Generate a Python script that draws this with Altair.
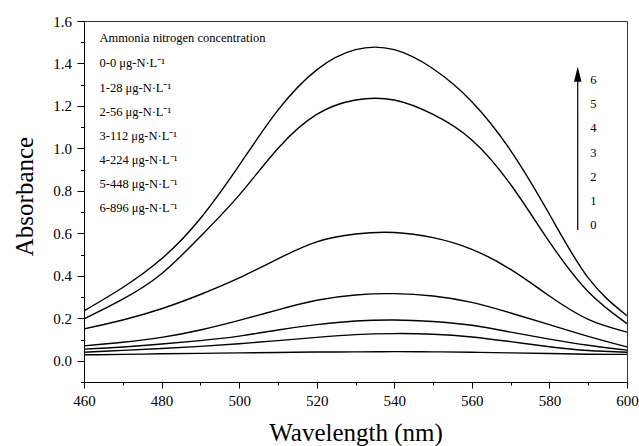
import altair as alt
import pandas as pd

# Absorption spectra (460-600 nm) for seven ammonia nitrogen standards
wavelength = [460, 470, 480, 490, 500, 510, 520, 530, 540, 550, 560, 570, 580, 590, 600]
abs_0 = [0.028, 0.030, 0.033, 0.035, 0.037, 0.039, 0.041, 0.042, 0.043, 0.042, 0.040, 0.037, 0.034, 0.031, 0.030]
abs_1 = [0.040, 0.049, 0.058, 0.068, 0.080, 0.095, 0.110, 0.123, 0.128, 0.125, 0.112, 0.090, 0.066, 0.048, 0.040]
abs_2 = [0.055, 0.065, 0.079, 0.095, 0.116, 0.145, 0.170, 0.187, 0.192, 0.185, 0.167, 0.135, 0.102, 0.073, 0.050]
abs_3 = [0.070, 0.087, 0.110, 0.145, 0.190, 0.240, 0.285, 0.310, 0.316, 0.305, 0.275, 0.225, 0.170, 0.115, 0.065]
abs_4 = [0.150, 0.192, 0.245, 0.312, 0.390, 0.480, 0.560, 0.597, 0.604, 0.580, 0.525, 0.430, 0.305, 0.195, 0.135]
abs_5 = [0.197, 0.290, 0.410, 0.585, 0.780, 1.000, 1.160, 1.228, 1.228, 1.160, 1.040, 0.830, 0.560, 0.325, 0.175]
abs_6 = [0.235, 0.345, 0.480, 0.670, 0.920, 1.180, 1.370, 1.465, 1.465, 1.375, 1.220, 0.990, 0.690, 0.390, 0.212]

series_ids = ["0", "1", "2", "3", "4", "5", "6"]
concentrations = ["0", "28", "56", "112", "224", "448", "896"]
legend_title = "Ammonia nitrogen concentration"

all_series = [abs_0, abs_1, abs_2, abs_3, abs_4, abs_5, abs_6]
rows = []
for sid, values in zip(series_ids, all_series):
    for w, a in zip(wavelength, values):
        rows.append({"wavelength": w, "absorbance": a, "series": sid})
spectra = pd.DataFrame(rows)

FONT = "'Liberation Serif', 'Times New Roman', serif"
X_DOMAIN = [460, 600]
Y_DOMAIN = [-0.1, 1.6]
x_scale = alt.Scale(domain=X_DOMAIN, nice=False, zero=False)
y_scale = alt.Scale(domain=Y_DOMAIN, nice=False, zero=False)

x_major = [460, 480, 500, 520, 540, 560, 580, 600]
x_minor = [470, 490, 510, 530, 550, 570, 590]
y_major = [0.0, 0.2, 0.4, 0.6, 0.8, 1.0, 1.2, 1.4, 1.6]
y_minor = [-0.1, 0.1, 0.3, 0.5, 0.7, 0.9, 1.1, 1.3, 1.5]

curves = alt.Chart(spectra).mark_line(
    color="black", strokeWidth=1.4, interpolate="natural"
).encode(
    x=alt.X("wavelength:Q", scale=x_scale,
            axis=alt.Axis(values=x_major, tickSize=6, labelPadding=5,
                          title="Wavelength (nm)", titleFontSize=25,
                          titleFontWeight="normal", titleBaseline="alphabetic",
                          titleY=58, format="d")),
    y=alt.Y("absorbance:Q", scale=y_scale,
            axis=alt.Axis(values=y_major, tickSize=7, labelPadding=5.5,
                          format=".1f", title="Absorbance", titleFontSize=25,
                          titleFontWeight="normal", titleBaseline="alphabetic",
                          titleX=-52, titleY=175)),
    detail="series:N",
)

# Minor ticks drawn as a second, label-free axis on each side
minor_df = pd.DataFrame({"wavelength": [460], "absorbance": [0.0]})
minor = alt.Chart(minor_df).mark_point(opacity=0).encode(
    x=alt.X("wavelength:Q", scale=x_scale,
            axis=alt.Axis(values=x_minor, tickSize=3, labels=False,
                          domain=False, title=None, orient="bottom")),
    y=alt.Y("absorbance:Q", scale=y_scale,
            axis=alt.Axis(values=y_minor, tickSize=3.5, labels=False,
                          domain=False, title=None, orient="left")),
)

# In-plot legend text
legend_lines = [legend_title] + [
    f"{s}-{c} \u03bcg-N\u00b7L\u207b\u00b9" for s, c in zip(series_ids, concentrations)
]
legend_y = [1.522] + [1.400 - 0.1135 * i for i in range(len(series_ids))]
legend_df = pd.DataFrame({"label": legend_lines, "wavelength": 464.0, "absorbance": legend_y})
legend = alt.Chart(legend_df).mark_text(
    align="left", baseline="middle", font=FONT, fontSize=12.5, color="black"
).encode(
    x=alt.X("wavelength:Q", scale=x_scale, axis=None),
    y=alt.Y("absorbance:Q", scale=y_scale, axis=None),
    text="label:N",
)

# Arrow showing increasing concentration, with series numbers beside it
arrow_x = 587.3
arrow_df = pd.DataFrame({"wavelength": [arrow_x], "y0": [0.616], "y1": [1.33]})
arrow_shaft = alt.Chart(arrow_df).mark_rule(color="black", strokeWidth=1.2).encode(
    x=alt.X("wavelength:Q", scale=x_scale, axis=None),
    y=alt.Y("y0:Q", scale=y_scale, axis=None),
    y2="y1:Q",
)
head_df = pd.DataFrame({"wavelength": [arrow_x], "absorbance": [1.349]})
arrow_head = alt.Chart(head_df).mark_point(
    shape="M0,-1L0.5,1L-0.5,1Z", filled=True, color="black", opacity=1, size=225,
    strokeWidth=0,
).encode(
    x=alt.X("wavelength:Q", scale=x_scale, axis=None),
    y=alt.Y("absorbance:Q", scale=y_scale, axis=None),
)
num_df = pd.DataFrame({
    "label": series_ids[::-1],
    "wavelength": 591.3,
    "absorbance": [1.322 - 0.1138 * i for i in range(len(series_ids))],
})
numbers = alt.Chart(num_df).mark_text(
    align="center", baseline="middle", font=FONT, fontSize=12.5, color="black"
).encode(
    x=alt.X("wavelength:Q", scale=x_scale, axis=None),
    y=alt.Y("absorbance:Q", scale=y_scale, axis=None),
    text="label:N",
)

chart = alt.layer(
    curves, minor, legend, arrow_shaft, arrow_head, numbers
).resolve_axis(
    x="independent", y="independent"
).properties(
    width=543,
    height=361,
    autosize=alt.AutoSizeParams(type="none"),
    padding={"left": 84, "top": 21, "right": 12, "bottom": 64},
    background="white",
).configure_view(
    stroke="#333333", strokeWidth=1
).configure_axis(
    labelFont=FONT, titleFont=FONT, labelFontSize=15, labelColor="black",
    titleColor="black", domainColor="black", tickColor="black",
    grid=False, labelFlush=False, labelOverlap=False,
)

chart.save("out.html", embed_options={"renderer": "svg", "actions": False})
